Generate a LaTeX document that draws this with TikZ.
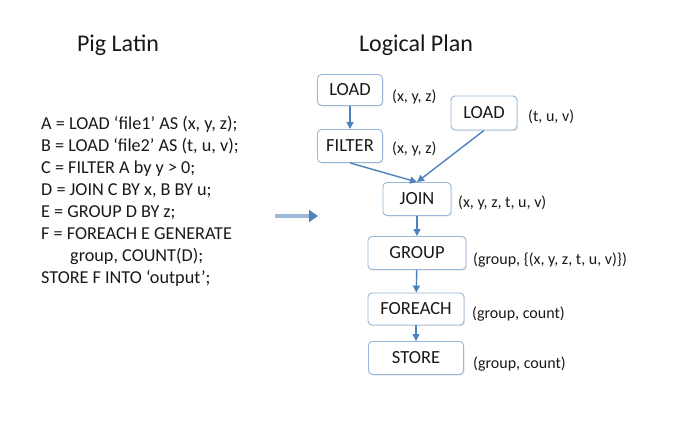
\documentclass[tikz,border=0pt]{standalone}
\usepackage{fontspec}
\setmainfont{Carlito}
\usetikzlibrary{arrows.meta}
\usetikzlibrary{shadows}
\definecolor{planblue}{RGB}{79,129,189}
\definecolor{boxline}{RGB}{150,182,218}
\definecolor{inkgray}{RGB}{25,25,25}
\begin{document}
\begin{tikzpicture}[x=1pt, y=-1pt,
        opbox/.style={draw=boxline, line width=0.9pt, rounded corners=4pt, fill=white,
            drop shadow={opacity=0.18, shadow xshift=1pt, shadow yshift=-1.2pt},
            minimum height=32pt, inner sep=0pt, text=inkgray,
            font=\fontsize{18.5}{20}\selectfont},
        schema/.style={anchor=west, inner sep=0pt, text=inkgray,
            font=\fontsize{16}{18}\selectfont},
        flow/.style={draw=planblue, line width=1.4pt, -{Triangle[length=7pt, width=7pt]}},
        codeline/.style={anchor=base west, inner sep=0pt, text=inkgray,
            font=\fontsize{18.2}{20}\selectfont}]
        \useasboundingbox (0,0) rectangle (678,438);
        % titles
        \node[anchor=base, font=\fontsize{24}{28}\selectfont, text=inkgray] (pigtitle) at (118,52) {Pig Latin};
        \node[anchor=base, font=\fontsize{24}{28}\selectfont, text=inkgray] (plantitle) at (416,52) {Logical Plan};
        % the script
        \foreach \n/\x/\txt in {0/41/{A = LOAD ‘file1’ AS (x, y, z);},
                1/41/{B = LOAD ‘file2’ AS (t, u, v);},
                2/41/{C = FILTER A by y > 0;},
                3/41/{D = JOIN C BY x, B BY u;},
                4/41/{E = GROUP D BY z;},
                5/41/{F = FOREACH E GENERATE},
                6/70/{group, COUNT(D);},
                7/41/{STORE F INTO ‘output’;}} {
            \node[codeline] (code\n) at (\x,130+21.9*\n) {\txt};
        }
        % translation arrow
        \coordinate (src) at (275,216);
        \coordinate (dst) at (318,216);
        \draw[draw=planblue!55, line width=3.6pt, -{Triangle[length=9pt, width=12pt, color=planblue, fill=planblue]}] (src) -- (dst);
        % operators
        \node[opbox, minimum width=65pt, minimum height=31pt] (loadA) at (350,90) {LOAD};
        \node[opbox, minimum width=66pt, minimum height=34pt] (loadB) at (484,113) {LOAD};
        \node[opbox, minimum width=65pt, minimum height=33pt] (filter) at (350,146) {FILTER};
        \node[opbox, minimum width=68pt, minimum height=33pt] (join) at (417,199) {JOIN};
        \node[opbox, minimum width=98pt, minimum height=33pt] (group) at (417,253) {GROUP};
        \node[opbox, minimum width=96pt, minimum height=32pt] (foreach) at (416,309) {FOREACH};
        \node[opbox, minimum width=95pt, minimum height=33pt] (store) at (416,358) {STORE};
        % schemas
        \node[schema] (sA) at (392,97) {(x, y, z)};
        \node[schema] (sB) at (528,117) {(t, u, v)};
        \node[schema] (sF) at (392,149) {(x, y, z)};
        \node[schema] (sJ) at (458,203) {(x, y, z, t, u, v)};
        \node[schema] (sG) at (473,260) {(group, \{(x, y, z, t, u, v)\})};
        \node[schema] (sE) at (472,314) {(group, count)};
        \node[schema] (sS) at (473,364) {(group, count)};
        % dataflow
        \draw[flow] (loadA) -- (filter);
        \draw[flow] (filter.south) -- (join.north);
        \draw[flow] (loadB.south) -- (join.north);
        \draw[flow] (join) -- (group);
        \draw[flow] (group) -- (foreach);
        \draw[flow] (foreach) -- (store);
\end{tikzpicture}
\end{document}
